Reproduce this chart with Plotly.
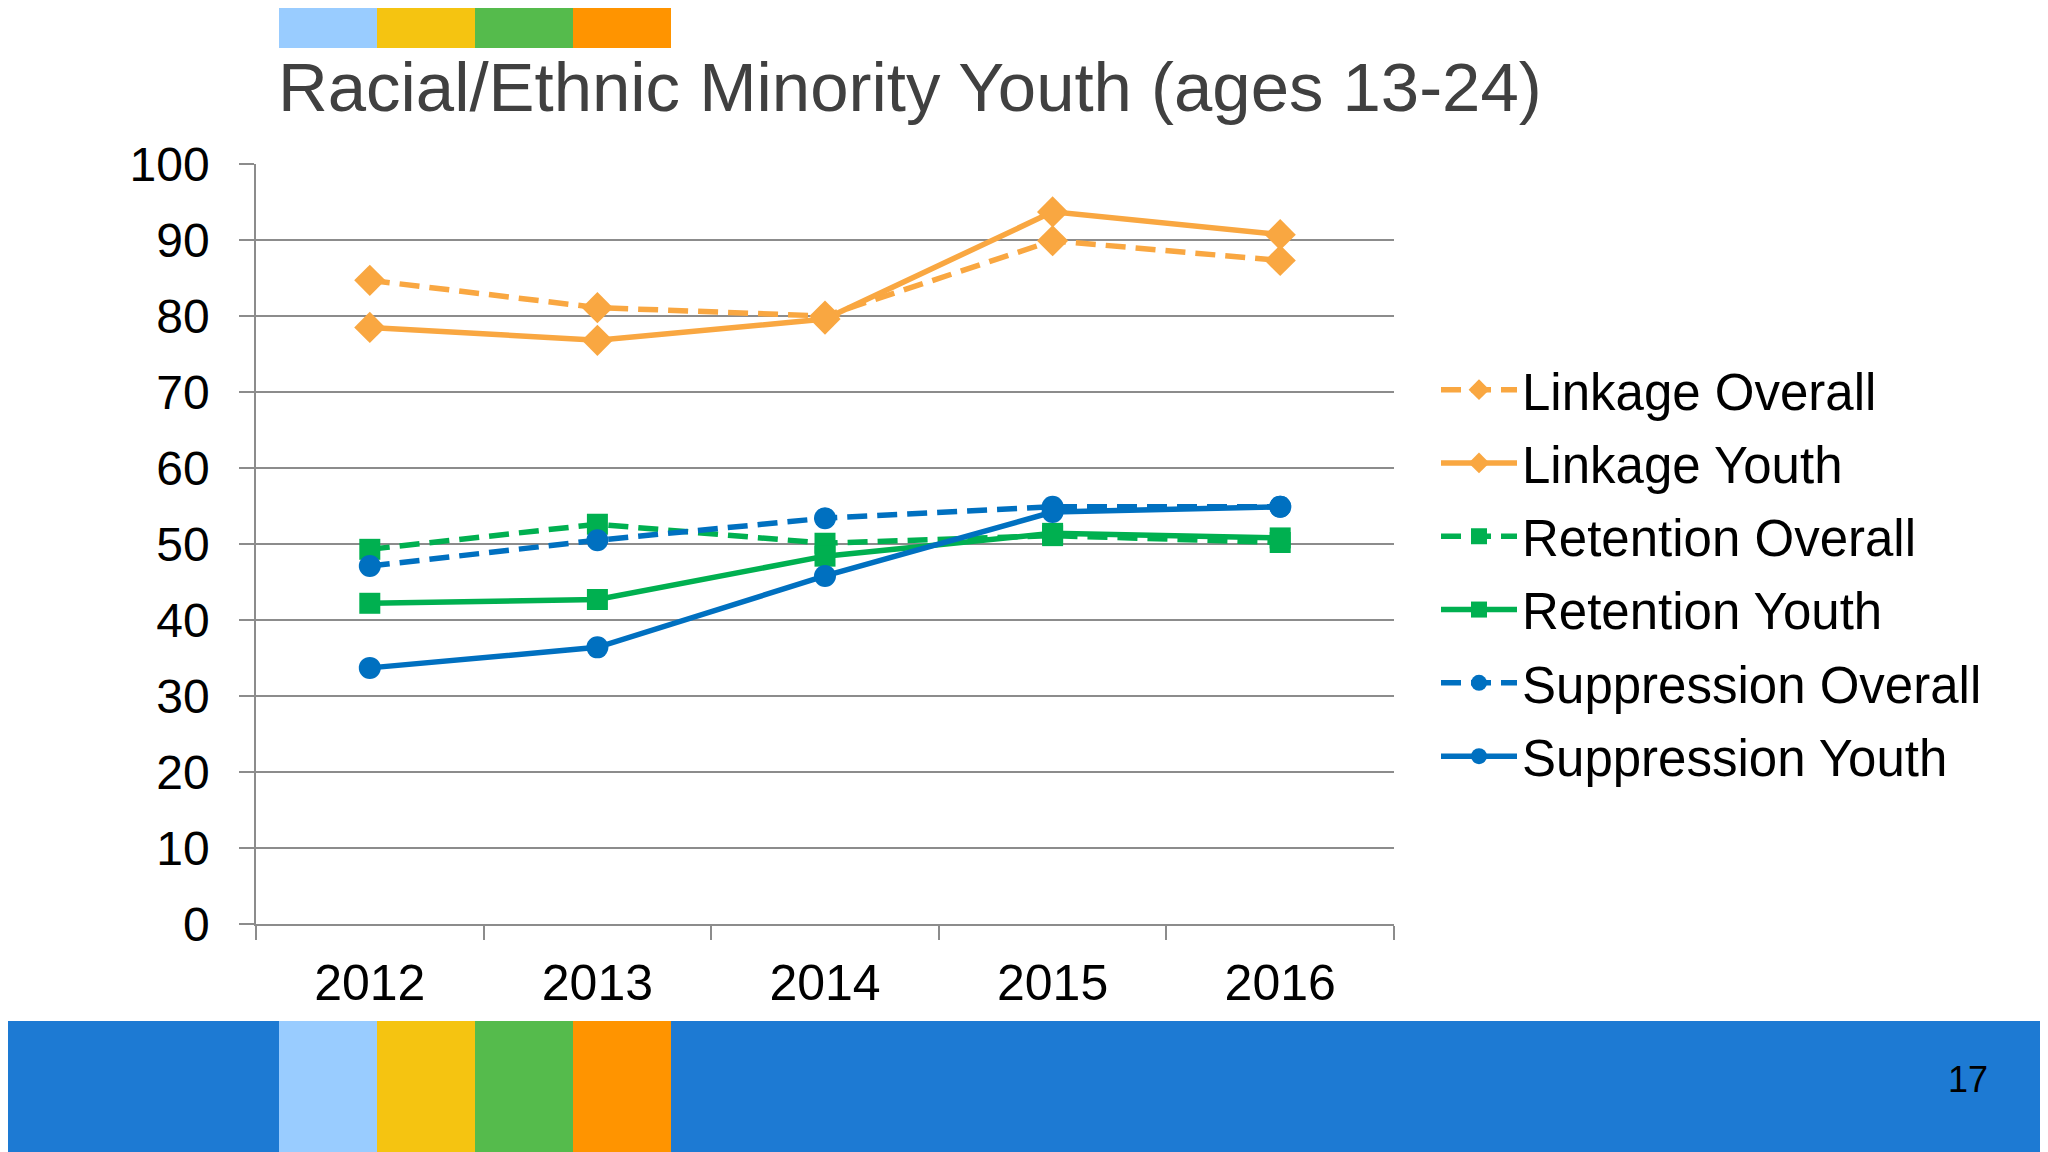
import plotly.graph_objects as go

# Data
years = ["2012", "2013", "2014", "2015", "2016"]

linkage_overall = [84.7, 81.1, 80.0, 89.9, 87.3]
linkage_youth = [78.5, 76.8, 79.6, 93.7, 90.7]
retention_overall = [49.3, 52.6, 50.1, 51.1, 50.2]
retention_youth = [42.2, 42.7, 48.4, 51.4, 50.8]
suppression_overall = [47.1, 50.5, 53.4, 54.9, 54.9]
suppression_youth = [33.7, 36.4, 45.8, 54.2, 54.9]

series_names = ["Linkage Overall", "Linkage Youth", "Retention Overall",
                "Retention Youth", "Suppression Overall", "Suppression Youth"]
series_values = [linkage_overall, linkage_youth, retention_overall,
                 retention_youth, suppression_overall, suppression_youth]

ORANGE = "#F9A741"
GREEN = "#00B050"
BLUE = "#0070C0"
DASH = "20px,10px"
styles = [
    (ORANGE, DASH, "diamond", 24),
    (ORANGE, "solid", "diamond", 24),
    (GREEN, DASH, "square", 21),
    (GREEN, "solid", "square", 21),
    (BLUE, DASH, "circle", 22),
    (BLUE, "solid", "circle", 22),
]

W, H = 2048, 1152
OFF = 8  # the page body adds an 8px margin, so draw everything 8px up/left
FONT = "Liberation Sans, Arial, sans-serif"

fig = go.Figure()
for i, (name, vals) in enumerate(zip(series_names, series_values)):
    color, dash, symbol, msize = styles[i]
    fig.add_trace(go.Scatter(
        x=years, y=vals, name=name, mode="lines+markers",
        legendgroup=name,
        line=dict(color=color, width=5.5, dash=dash),
        marker=dict(color=color, symbol=symbol, size=msize),
    ))

# screen pixel -> paper helpers
def px(x):
    return (x - OFF) / W


def py(y):
    return 1 - (y - OFF) / H


shapes = []
# bottom blue band
shapes.append(dict(type="rect", xref="paper", yref="paper", x0=0, x1=1,
                   y0=0, y1=py(1021), fillcolor="#1D7AD3", line_width=0, layer="below"))
strip_colors = ["#99CCFF", "#F5C411", "#55BB4C", "#FF9400"]
for k, c in enumerate(strip_colors):
    x0 = 279 + k * 98
    shapes.append(dict(type="rect", xref="paper", yref="paper", x0=px(x0), x1=px(x0 + 98),
                       y0=py(48), y1=1, fillcolor=c, line_width=0, layer="below"))
    shapes.append(dict(type="rect", xref="paper", yref="paper", x0=px(x0), x1=px(x0 + 98),
                       y0=0, y1=py(1021), fillcolor=c, line_width=0, layer="below"))

fig.update_layout(
    template="none",
    width=W, height=H,
    autosize=False,
    margin=dict(l=0, r=0, t=0, b=0, pad=0, autoexpand=False),
    paper_bgcolor="white", plot_bgcolor="white",
    font=dict(family=FONT, color="black"),
    shapes=shapes,
    xaxis=dict(
        domain=[px(256), px(1394)], type="category", automargin=False,
        range=[-0.5, len(years) - 0.5],
        showgrid=False, showline=True, linecolor="#8C8C8C", linewidth=2,
        ticks="outside", tickson="boundaries", ticklen=14, tickcolor="#8C8C8C", tickwidth=1.5,
        tickfont=dict(size=50, family=FONT, color="black"),
        ticklabelstandoff=14,
        zeroline=False,
    ),
    yaxis=dict(
        domain=[py(924), py(164)], range=[0, 100], dtick=10, automargin=False,
        showgrid=True, gridcolor="#8C8C8C", gridwidth=2,
        showline=True, linecolor="#8C8C8C", linewidth=1.5,
        ticks="outside", ticklen=15, tickcolor="#8C8C8C", tickwidth=2,
        tickfont=dict(size=48, family=FONT, color="black"),
        ticklabelstandoff=20,
        zeroline=False,
    ),
    legend=dict(
        x=px(1436), y=py(350), xanchor="left", yanchor="top",
        font=dict(size=51, family=FONT, color="black"),
        itemwidth=76, tracegroupgap=4, bgcolor="rgba(0,0,0,0)",
    ),
    annotations=[
        dict(text="Racial/Ethnic Minority Youth (ages 13-24)", xref="paper", yref="paper",
             x=px(276), y=py(88), xanchor="left", yanchor="middle", showarrow=False,
             font=dict(size=68.9, family=FONT, color="#404040")),
        dict(text="17", xref="paper", yref="paper", x=px(1968), y=py(1079),
             xanchor="center", yanchor="middle", showarrow=False,
             font=dict(size=36, family=FONT, color="black")),
    ],
    showlegend=True,
)

fig.write_html("out.html")
